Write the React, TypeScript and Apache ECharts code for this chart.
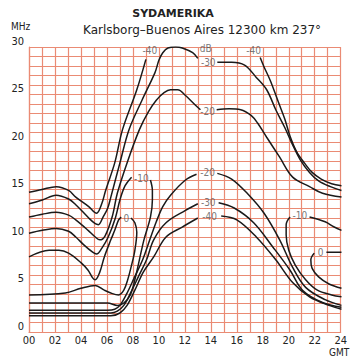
import React, { useEffect, useRef } from "react";
import * as echarts from "echarts";

// hours (GMT) and frequencies (MHz)
const xTicks = ["00", "02", "04", "06", "08", "10", "12", "14", "16", "18", "20", "22", "24"];
const yTicks = [0, 5, 10, 15, 20, 25, 30];

// upper family (above MUF)
const u40a = [[0, 14.7], [1.0, 15.0], [2.1, 15.3], [3.05, 14.9], [3.6, 14.2], [4.6, 13.2], [5.2, 12.5], [5.6, 13.5], [5.9, 14.9], [6.6, 17.8], [7.2, 21.3], [8.3, 25.5], [9.0, 28.7]];
const u40b = [[17.8, 28.9], [18.1, 27.9], [18.6, 26.4], [19.2, 24.2], [19.7, 22.4], [20.1, 20.6], [20.6, 19.0], [21.2, 17.8], [21.8, 16.8], [22.5, 16.1], [23.3, 15.6], [24.06, 15.4]];
const u30a = [[0, 13.5], [1.03, 13.9], [2.08, 14.4], [3.05, 14.0], [3.6, 13.4], [4.6, 12.0], [5.1, 11.4], [5.35, 11.3], [5.7, 12.1], [6.05, 13.0], [6.3, 14.2], [7.0, 17.8], [7.7, 21.3], [8.7, 24.4], [9.7, 27.3], [10.0, 28.6], [10.3, 29.4], [10.7, 29.9], [11.3, 30.0], [11.8, 29.9], [12.6, 29.4], [13.0, 28.8]];
const u30b = [[14.5, 28.4], [15.6, 28.4], [16.6, 28.1], [17.5, 26.8], [18.3, 25.5], [19.0, 23.4], [19.7, 21.5], [20.3, 19.7], [20.9, 18.1], [21.6, 16.8], [22.3, 15.9], [23.2, 15.3], [24.06, 14.9]];
const u20a = [[0, 12.1], [1.03, 12.4], [2.08, 12.6], [3.05, 12.3], [3.6, 11.8], [4.55, 10.7], [5.1, 10.0], [5.45, 9.7], [5.85, 10.1], [6.4, 12.1], [6.8, 14.6], [7.55, 17.8], [8.5, 21.3], [9.2, 23.2], [9.8, 24.4], [10.4, 25.2], [10.9, 25.5], [11.45, 25.5], [12.05, 24.9], [12.8, 23.9], [13.2, 23.4]];
const u20b = [[14.45, 23.4], [15.4, 23.5], [16.3, 23.4], [17.1, 22.8], [17.6, 22.0], [18.3, 20.5], [19.3, 18.4], [20.3, 16.3], [21.6, 15.3], [22.6, 14.6], [24.06, 14.2]];

// -10 dB: night band, closes after 09 GMT
const m10a = [[0, 10.4], [1.03, 10.7], [2.08, 10.9], [3.05, 10.6], [3.6, 10.0], [4.2, 9.2], [4.9, 8.4], [5.2, 8.2], [5.6, 8.8], [6.1, 10.0], [6.65, 12.0], [7.0, 13.9], [7.4, 15.4], [7.9, 16.3]];
const m10b = [[9.35, 16.0], [9.5, 14.9], [9.5, 13.9], [9.35, 12.1], [8.85, 9.7], [8.5, 7.6], [8.15, 5.5], [7.8, 3.9], [7.3, 3.05], [6.8, 2.8], [6.05, 3.05], [0, 3.05]];

// 0 dB: closed night region
const z0a = [[0, 7.9], [1.55, 8.6], [2.3, 8.6], [3.05, 8.3], [4.0, 7.3], [4.55, 6.5], [4.9, 5.7], [5.1, 5.5], [5.45, 6.3], [5.8, 7.9], [6.3, 9.7], [6.6, 10.7], [6.9, 11.8], [7.1, 12.1]];
const z0b = [[7.85, 12.0], [8.15, 11.5], [8.3, 10.5], [8.15, 8.6], [7.9, 7.05], [7.6, 5.5], [7.3, 4.4], [6.9, 3.9], [6.3, 4.1], [5.8, 4.4], [5.1, 4.9], [4.0, 4.6], [2.8, 4.1], [0, 3.9]];

// lower family (absorption side)
const l20a = [[0, 2.3], [6.05, 2.3], [6.6, 2.4], [7.0, 2.8], [7.55, 4.1], [8.1, 5.7], [8.75, 7.6], [9.3, 9.7], [9.8, 11.6], [10.3, 13.2], [10.9, 14.4], [12.05, 16.0], [12.9, 16.6]];
const l20b = [[14.5, 16.7], [15.6, 16.1], [16.8, 14.6], [18.1, 12.5], [19.3, 9.7], [20.3, 6.8], [21.3, 4.7], [22.8, 3.4], [24.06, 2.8]];
const l30a = [[0, 2.0], [6.3, 2.0], [6.8, 2.2], [7.3, 2.8], [7.85, 4.2], [8.45, 5.9], [9.05, 7.6], [9.6, 9.7], [10.55, 11.5], [12.05, 12.8], [13.0, 13.5]];
const l30b = [[14.6, 13.6], [15.8, 13.05], [17.3, 11.5], [18.8, 8.9], [20.1, 6.5], [21.06, 4.4], [22.6, 3.1], [24.06, 2.6]];
const l40a = [[0, 1.7], [6.3, 1.7], [7.0, 2.0], [7.55, 2.8], [8.15, 4.4], [8.8, 6.3], [9.6, 7.9], [10.55, 10.0], [11.8, 11.05], [13.0, 12.0]];
const l40b = [[14.8, 12.2], [16.0, 11.8], [17.5, 10.0], [19.0, 7.6], [20.3, 5.2], [21.6, 3.7], [23.1, 2.8], [24.06, 2.4]];

// evening regions
const r10a = [[20.1, 12.1], [19.8, 11.3], [19.8, 10.2], [20.0, 8.6], [20.5, 7.05], [21.3, 5.5], [22.2, 4.4], [23.3, 3.9], [24.06, 3.7]];
const r10b = [[21.6, 12.1], [22.8, 11.6], [23.5, 11.05], [24.06, 10.7]];
const r0a = [[21.96, 8.3], [21.7, 7.6], [21.8, 6.7], [22.3, 5.8], [23.1, 5.05], [24.06, 4.6]];
const r0b = [[22.9, 8.4], [24.06, 8.4]];

// contour labels [hour, MHz, text]
const dbLabels = [
  [9.3, 29.6, "-40"], [17.3, 29.6, "-40"], [13.6, 29.8, "dB"], [13.8, 28.4, "-30"],
  [13.75, 23.2, "-20"], [8.65, 16.2, "-10"], [7.5, 12.0, "0"],
  [13.75, 16.8, "-20"], [13.8, 13.6, "-30"], [13.9, 12.2, "-40"],
  [20.85, 12.3, "-10"], [22.45, 8.4, "0"],
];

const contours = [u40a, u40b, u30a, u30b, u20a, u20b, m10a, m10b, z0a, z0b, l20a, l20b, l30a, l30b, l40a, l40b, r10a, r10b, r0a, r0b];

const GRID = "#ea8b74";
const FONT = '"DejaVu Sans", sans-serif';
const NARROW = '"DejaVu Sans Condensed", "DejaVu Sans", sans-serif';

export default function App() {
  const ref = useRef<HTMLDivElement>(null);
  useEffect(() => {
    if (!ref.current) return;
    const chart = echarts.init(ref.current, undefined, { renderer: "svg" });
    const lineSeries = contours.map((d) => ({
      type: "line",
      data: d,
      smooth: 0.35,
      showSymbol: false,
      silent: true,
      clip: true,
      lineStyle: { color: "#1a1a1a", width: 1.5 },
    }));
    chart.setOption({
      animation: false,
      backgroundColor: "#ffffff",
      grid: { left: 29, right: 1, top: 47, bottom: 27 },
      title: [
        { text: "SYDAMERIKA", left: 173, top: 8, padding: 0, textAlign: "center", textStyle: { fontSize: 11, fontWeight: "bold", color: "#222", fontFamily: FONT } },
        { text: "Karlsborg–Buenos Aires 12300 km 237°", left: 202, top: 24, padding: 0, textAlign: "center", textStyle: { fontSize: 12, fontWeight: "normal", color: "#222", fontFamily: FONT } },
        { text: "MHz", left: 11, top: 21, padding: 0, textStyle: { fontSize: 10, fontWeight: "normal", color: "#222", fontFamily: NARROW } },
        { text: "GMT", left: 329, top: 347, padding: 0, textStyle: { fontSize: 10, fontWeight: "normal", color: "#222", fontFamily: NARROW } },
      ],
      xAxis: {
        type: "value",
        min: 0,
        max: 24,
        interval: 2,
        axisLine: { show: true, lineStyle: { color: GRID, width: 1.2 } },
        axisTick: { show: false },
        axisLabel: {
          color: "#222",
          fontSize: 11,
          margin: 3,
          fontFamily: NARROW,
          formatter: (v: number) => xTicks[Math.round(v / 2)] ?? "",
        },
        splitLine: { show: true, lineStyle: { color: GRID, width: 1.2 } },
        minorTick: { show: false, splitNumber: 2 },
        minorSplitLine: { show: true, lineStyle: { color: GRID, width: 1.2 } },
      },
      yAxis: {
        type: "value",
        min: 0,
        max: 30,
        interval: 5,
        axisLine: { show: true, lineStyle: { color: GRID, width: 1.2 } },
        axisTick: { show: false },
        axisLabel: {
          color: "#222",
          fontSize: 11,
          margin: 5,
          fontFamily: NARROW,
          verticalAlign: "bottom",
          lineHeight: 12,
          formatter: (v: number) => (yTicks.includes(v) ? String(v) : ""),
        },
        splitLine: { show: true, lineStyle: { color: GRID, width: 1.2 } },
        minorTick: { show: false, splitNumber: 5 },
        minorSplitLine: { show: true, lineStyle: { color: GRID, width: 1.2 } },
      },
      series: [
        ...lineSeries,
        {
          type: "scatter",
          symbolSize: 0,
          silent: true,
          data: dbLabels.map((l) => ({ value: [l[0], l[1]], name: l[2] })),
          label: {
            show: true,
            position: "inside",
            formatter: (p: any) => p.name,
            fontSize: 10,
            color: "#555",
            fontFamily: NARROW,
          },
        },
      ],
    });
    return () => chart.dispose();
  }, []);
  return <div ref={ref} style={{ position: "fixed", left: 0, top: 0, width: 350, height: 359 }} />;
}
